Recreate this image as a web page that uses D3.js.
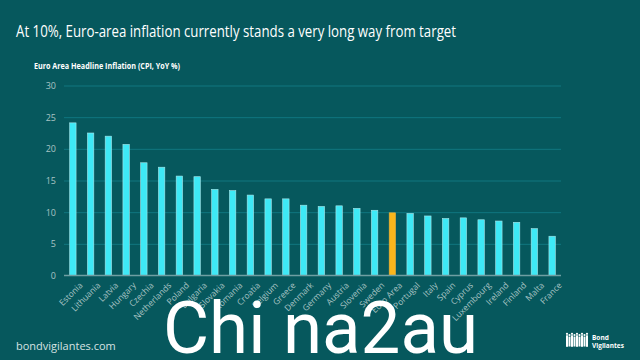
<!DOCTYPE html>
<html>
<head>
<meta charset="utf-8">
<script src="https://cdn.jsdelivr.net/npm/d3@7"></script>
<style>
html,body{margin:0;padding:0;background:#06585d;}
svg{display:block;}
</style>
</head>
<body>
<svg id="chart" width="640" height="360"></svg>
<script>
const countries = ["Estonia","Lithuania","Latvia","Hungary","Czechia","Netherlands","Poland","Bulgaria","Slovakia","Romania","Croatia","Belgium","Greece","Denmark","Germany","Austria","Slovenia","Sweden","Euro Area","Portugal","Italy","Spain","Cyprus","Luxembourg","Ireland","Finland","Malta","France"];
const inflation = [24.1,22.5,22.0,20.7,17.8,17.1,15.7,15.6,13.6,13.4,12.7,12.1,12.1,11.1,10.9,11.0,10.6,10.3,9.9,9.8,9.4,9.0,9.1,8.8,8.6,8.4,7.4,6.2];
const yTicks = [0,5,10,15,20,25,30];
const highlight = "Euro Area";
const title = "At 10%, Euro-area inflation currently stands a very long way from target";
const subtitle = "Euro Area Headline Inflation (CPI, YoY %)";

const svg = d3.select("#chart");
svg.append("rect").attr("width",640).attr("height",360).attr("fill","#06585d");

const pLeft = 64, pRight = 561, pTop = 85.5, pBottom = 275.5;
const x = d3.scaleBand().domain(countries).range([pLeft,pRight]).paddingInner(0.64).paddingOuter(0.32);
const y = d3.scaleLinear().domain([0,30]).range([pBottom,pTop]);

// title
svg.append("text").attr("x",16).attr("y",37).attr("fill","#ffffff")
  .style("font-family","'Open Sans', sans-serif").style("font-size","17px")
  .attr("textLength",440).attr("lengthAdjust","spacingAndGlyphs").text(title);
svg.append("text").attr("x",34).attr("y",69).attr("fill","#ffffff")
  .style("font-family","'Open Sans', sans-serif").style("font-size","8.5px").style("font-weight","bold")
  .attr("textLength",146).attr("lengthAdjust","spacingAndGlyphs").text(subtitle);

// gridlines
const yAxis = d3.axisLeft(y).tickValues(yTicks).tickSize(-(pRight-pLeft)).tickPadding(8);
const gy = svg.append("g").attr("transform",`translate(${pLeft},0)`).call(yAxis);
gy.select(".domain").remove();
gy.selectAll(".tick line").attr("stroke","#107680").attr("stroke-width",1);
gy.selectAll(".tick text").attr("fill","#a9c4c4").style("font-family","'Open Sans', sans-serif").style("font-size","9px");
gy.selectAll(".tick").filter(d=>d===0).select("line").attr("stroke","none");

// bars
svg.append("g").selectAll("rect").data(countries).join("rect")
  .attr("x",d=>x(d)).attr("width",x.bandwidth())
  .attr("y",(d,i)=>y(inflation[i])).attr("height",(d,i)=>y(0)-y(inflation[i]))
  .attr("fill",d=>d===highlight?"#fbb61b":"#3ee9f6")
  .attr("stroke",d=>d===highlight?"#e8b040":"#a8e6ea").attr("stroke-width",0.6);

// x axis
const xAxis = d3.axisBottom(x).tickSize(0).tickPadding(6);
const gx = svg.append("g").attr("transform",`translate(0,${pBottom})`).call(xAxis);
gx.select(".domain").attr("stroke","#6f9ea2").attr("stroke-width",1.5).attr("d",`M${pLeft},0H${pRight}`);
gx.selectAll(".tick text")
  .attr("fill","#a9c4c4").style("font-family","'Open Sans', sans-serif").style("font-size","8.5px")
  .attr("text-anchor","end").attr("dy","0.35em")
  .attr("transform","translate(4,4) rotate(-45)");

// footer
svg.append("text").attr("x",16).attr("y",350).attr("fill","#d6e2e2")
  .style("font-family","'Open Sans', sans-serif").style("font-size","11px").text("bondvigilantes.com");

// logo
const logo = svg.append("g").attr("transform","translate(566,332)");
const figs = [0,2.5,5,7.5,10,12.5,15,17.5,20];
logo.selectAll("circle").data(figs).join("circle")
  .attr("cx",d=>d+1).attr("cy",(d,i)=>i%2?3:1.8).attr("r",1.1).attr("fill","#ffffff");
logo.selectAll("rect").data(figs).join("rect")
  .attr("x",d=>d).attr("y",(d,i)=>i%2?4.5:3.3).attr("width",2).attr("height",(d,i)=>i%2?10:11.5).attr("fill","#ffffff");
svg.append("text").attr("x",592).attr("y",340).attr("fill","#ffffff")
  .style("font-family","'Open Sans', sans-serif").style("font-size","6.5px").style("font-weight","bold").text("Bond");
svg.append("text").attr("x",592).attr("y",348).attr("fill","#ffffff")
  .style("font-family","'Open Sans', sans-serif").style("font-size","6.5px").style("font-weight","bold").text("Vigilantes");

// watermark
svg.append("text").attr("x",163).attr("y",353).attr("fill","#ffffff")
  .style("font-family","Roboto, sans-serif").style("font-size","72px")
  .attr("textLength",315).attr("lengthAdjust","spacingAndGlyphs").text("Chi na2au");
</script>
</body>
</html>
